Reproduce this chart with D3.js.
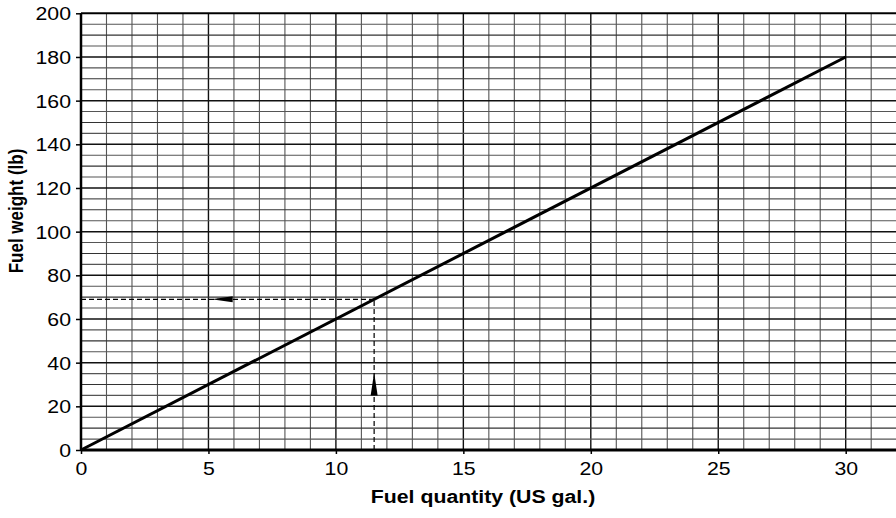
<!DOCTYPE html>
<html>
<head>
<meta charset="utf-8">
<script src="https://cdn.jsdelivr.net/npm/d3@7"></script>
<style>
  html, body { margin: 0; padding: 0; background: #fff; }
  svg { display: block; font-family: "Liberation Sans", Arial, sans-serif; }
</style>
</head>
<body>
<svg id="chart" width="896" height="518"></svg>
<script>
// Data
const quantityGal = [0, 30];
const weightLb = [0, 180];
const exampleGal = 11.5;
const exampleLb = 69;
const xTicks = [0, 5, 10, 15, 20, 25, 30];
const yTicks = [0, 20, 40, 60, 80, 100, 120, 140, 160, 180, 200];
const xTitle = "Fuel quantity (US gal.)";
const yTitle = "Fuel weight (lb)";

const svg = d3.select("#chart");
const W = 896, H = 518;
const SX = 1.15; // horizontal text stretch seen in the reference
const FS = 18.5;

const x = d3.scaleLinear().domain([0, 32]).range([81, 81 + 25.49 * 32]);
const y = d3.scaleLinear().domain([0, 200]).range([450, 13.3]);

const g = svg.append("g");

// vertical grid every 1 gal
const vgrid = d3.range(1, 33);
g.selectAll("line.vg").data(vgrid).enter().append("line")
  .attr("x1", d => x(d)).attr("x2", d => x(d))
  .attr("y1", y(0)).attr("y2", y(200))
  .attr("stroke", d => d % 5 === 0 ? "#111" : "#555")
  .attr("stroke-width", d => d % 5 === 0 ? 1.4 : 1.1);

// horizontal grid every 5 lb
const hgrid = d3.range(5, 201, 5);
g.selectAll("line.hg").data(hgrid).enter().append("line")
  .attr("x1", x(0)).attr("x2", W)
  .attr("y1", d => y(d)).attr("y2", d => y(d))
  .attr("stroke", d => d % 20 === 0 ? "#111" : (d % 10 === 0 ? "#333" : "#555"))
  .attr("stroke-width", d => d % 20 === 0 ? 1.5 : 1.1);

// axes
const xAxis = d3.axisBottom(x).tickValues(xTicks).tickSize(4).tickFormat(d3.format("d"));
const yAxis = d3.axisLeft(y).tickValues(yTicks).tickSize(5).tickFormat(d3.format("d"));

const gx = svg.append("g").attr("transform", `translate(0,${y(0)})`).call(xAxis);
gx.select(".domain").remove();
gx.selectAll(".tick line").attr("stroke", "#000").attr("stroke-width", 1.5);
gx.selectAll(".tick text").attr("font-size", FS).attr("fill", "#000")
  .attr("y", 25).attr("dy", 0).attr("x", 0)
  .attr("transform", `scale(${SX},1)`)
  .attr("font-family", "Liberation Sans, Arial, sans-serif");

const gy = svg.append("g").attr("transform", `translate(${x(0)},0)`).call(yAxis);
gy.select(".domain").remove();
gy.selectAll(".tick line").attr("stroke", "#000").attr("stroke-width", 1.5);
gy.selectAll(".tick text").attr("font-size", FS).attr("fill", "#000")
  .attr("x", -10 / SX).attr("dy", "0.36em")
  .attr("transform", `scale(${SX},1)`)
  .attr("font-family", "Liberation Sans, Arial, sans-serif");

// frame lines
svg.append("line").attr("x1", x(0)).attr("x2", W).attr("y1", y(0)).attr("y2", y(0))
  .attr("stroke", "#000").attr("stroke-width", 3);
svg.append("line").attr("x1", x(0)).attr("x2", x(0)).attr("y1", y(0) + 1).attr("y2", y(200))
  .attr("stroke", "#000").attr("stroke-width", 2.5);
svg.append("line").attr("x1", x(0)).attr("x2", W).attr("y1", y(200)).attr("y2", y(200))
  .attr("stroke", "#000").attr("stroke-width", 1.8);

// dashed reference lines
svg.append("line")
  .attr("x1", x(exampleGal)).attr("x2", x(exampleGal))
  .attr("y1", y(0)).attr("y2", y(exampleLb))
  .attr("stroke", "#000").attr("stroke-width", 1.2).attr("stroke-dasharray", "5,3");
svg.append("line")
  .attr("x1", x(0)).attr("x2", x(exampleGal))
  .attr("y1", y(exampleLb)).attr("y2", y(exampleLb))
  .attr("stroke", "#000").attr("stroke-width", 1.2).attr("stroke-dasharray", "5,3");

// arrows
const ax = x(exampleGal), ay0 = y(exampleLb);
const upTipY = y(35.5), upBaseY = y(25);
svg.append("path")
  .attr("d", `M${ax},${upTipY} L${ax + 3.5},${upBaseY} L${ax - 3.5},${upBaseY} Z`)
  .attr("fill", "#000");
const lTipX = x(5.12), lBaseX = x(5.95);
svg.append("path")
  .attr("d", `M${lTipX},${ay0} L${lBaseX},${ay0 - 3} L${lBaseX},${ay0 + 3} Z`)
  .attr("fill", "#000");

// main line
const line = d3.line().x(d => x(d[0])).y(d => y(d[1]));
svg.append("path")
  .datum(quantityGal.map((q, i) => [q, weightLb[i]]))
  .attr("d", line)
  .attr("fill", "none").attr("stroke", "#000").attr("stroke-width", 3);

// titles
svg.append("text").attr("transform", `translate(483,503) scale(${SX},1)`).attr("text-anchor", "middle")
  .attr("font-size", FS).attr("font-weight", "bold").text(xTitle);
svg.append("text").attr("transform", `translate(23,211) scale(1.2,1) rotate(-90)`).attr("text-anchor", "middle")
  .attr("font-size", 17).attr("font-weight", "bold").text(yTitle);
</script>
</body>
</html>
